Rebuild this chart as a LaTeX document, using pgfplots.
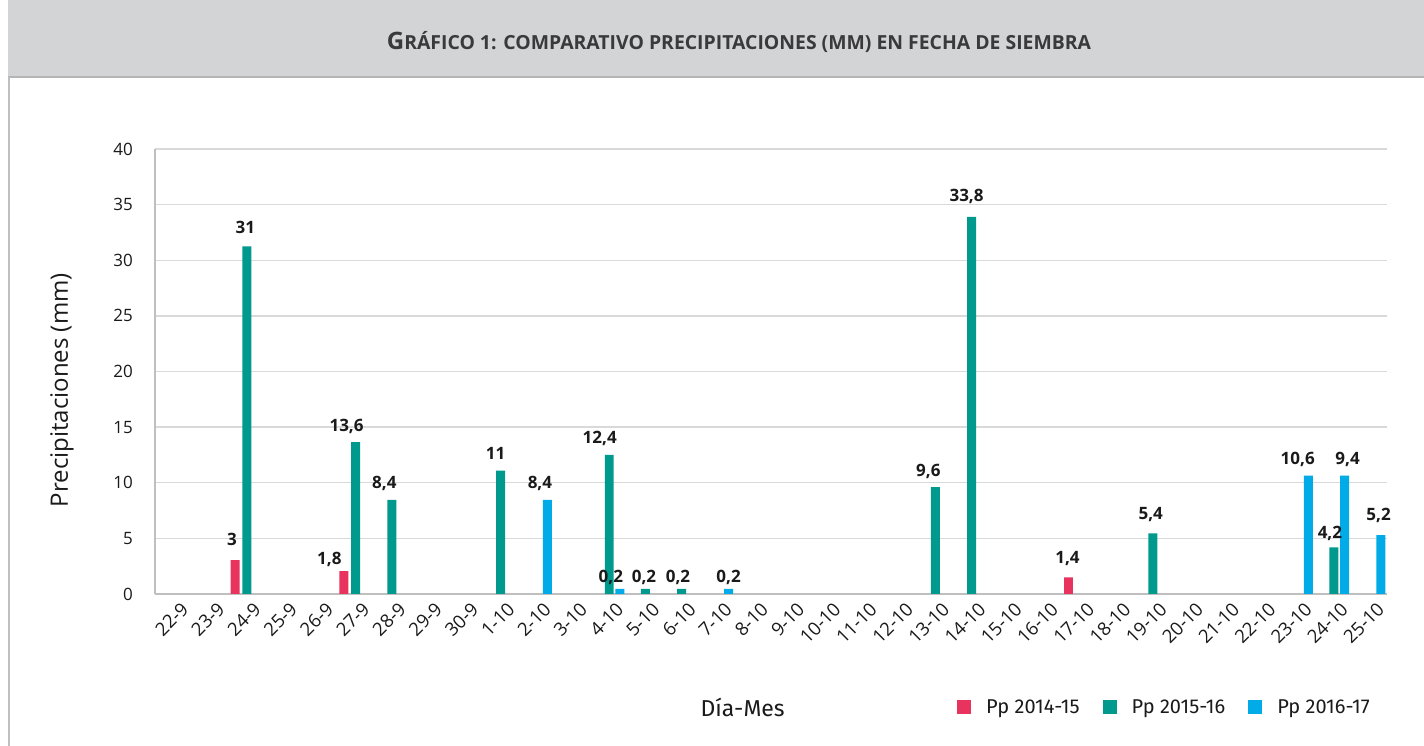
\documentclass[border=0pt]{standalone}
\usepackage{pgfplots}
\pgfplotsset{compat=1.18}
\usepackage{pgfplotstable}
\usepackage{fontspec}
\setmainfont{Open Sans}
\newfontfamily\legfont{Fira Sans}
\definecolor{cred}{HTML}{E8335E}
\definecolor{cteal}{HTML}{00998E}
\definecolor{cblue}{HTML}{00ABE7}
\definecolor{banner}{HTML}{D3D4D6}
\definecolor{bannerline}{HTML}{B4B5B7}
\definecolor{gridc}{HTML}{D9D9D9}
\definecolor{axc}{HTML}{BFBFBF}
\definecolor{txt}{HTML}{1A1A1A}
\definecolor{titc}{HTML}{3A3A3A}

\pgfplotstableread{
x y lab dx dy
2 3.05 3 -3 21
5 2.05 1,8 -14.5 13
25 1.5 1,4 -1 20
}\redtab
\pgfplotstableread{
x y lab dx dy
2 31.25 31 -1.5 19
5 13.65 13,6 -9 17
6 8.45 8,4 -7.5 17
9 11.1 11 -5 17
12 12.5 12,4 -9.5 17
13 0.45 0,2 -1.5 12
14 0.45 0,2 -3.7 12
21 9.6 9,6 -7 17
22 33.9 33,8 -5 21
27 5.45 5,4 -2 20
32 4.2 4,2 -4 15
}\tealtab
\pgfplotstableread{
x y lab dx dy
10 8.45 8,4 -7.5 17
12 0.45 0,2 -9 12
15 0.45 0,2 0 12
31 10.65 10,6 -10.7 17
32 10.65 9,4 3 17
33 5.3 5,2 -2.3 21
}\bluetab

\begin{document}
\begin{tikzpicture}[x=1pt,y=1pt]
\path[use as bounding box] (0,0) rectangle (1424,746);
\fill[white] (0,0) rectangle (1424,746);
\fill[banner] (8,669) rectangle (1424,746);
\draw[bannerline,line width=1.5pt] (8,669) -- (1424,669);
\draw[axc,line width=2pt] (9,0) -- (9,669);
\node[font=\bfseries\fontsize{19.4}{22}\selectfont, text=titc] at (739,704)
  {{\fontsize{24}{27}\selectfont G}RÁFICO 1: COMPARATIVO PRECIPITACIONES (MM) EN FECHA DE SIEMBRA};
\begin{axis}[
  at={(155pt,152pt)}, anchor=south west,
  scale only axis, width=1232pt, height=445pt,
  xmin=-0.5, xmax=33.5, ymin=0, ymax=40,
  ybar,
  axis x line*=bottom, axis y line*=left,
  axis line style={axc, line width=1.5pt, -},
  ytick={0,5,...,40},
  ymajorgrids, grid style={gridc, line width=1.3pt},
  major tick length=0pt,
  xtick={0,...,33},
  xticklabels={22-9,23-9,24-9,25-9,26-9,27-9,28-9,29-9,30-9,1-10,2-10,3-10,4-10,5-10,6-10,7-10,8-10,9-10,10-10,11-10,12-10,13-10,14-10,15-10,16-10,17-10,18-10,19-10,20-10,21-10,22-10,23-10,24-10,25-10},
  /pgf/number format/assume math mode=true,
  yticklabel style={font=\fontsize{17}{20}\selectfont, text=txt, anchor=east, inner sep=0pt, xshift=-22pt},
  xticklabel style={font=\fontsize{18.5}{21}\selectfont, text=txt, rotate=45, anchor=north east, inner sep=0pt, xshift=0pt, yshift=-10pt},
  ylabel={Precipitaciones (mm)},
  ylabel style={font=\fontsize{24}{28}\selectfont, text=txt, at={(axis description cs:-0.0755,0.458)}, anchor=center},
  xlabel={Día-Mes},
  xlabel style={font=\legfont\fontsize{23}{26}\selectfont, text=txt, at={(axis description cs:0.477,-0.254)}, anchor=center},
  legend style={at={(axis description cs:0.651,-0.254)}, anchor=west, draw=none, fill=none, inner sep=0pt,
    font=\legfont\fontsize{20}{24}\selectfont, text=txt, legend columns=3,
    nodes={inner sep=1pt},
    /tikz/every odd column/.append style={column sep=14pt},
    /tikz/every even column/.append style={column sep=22pt}},
  legend image code/.code={\fill[#1,draw=none] (0pt,-7pt) rectangle (14pt,7pt);},
  bar width=0.248,
  point meta=explicit symbolic,
  nodes near coords,
  every node near coord/.append style={font=\bfseries\fontsize{17}{20}\selectfont, text=txt, anchor=base, inner sep=0pt, xshift=\ldx pt, yshift=\ldy pt},
  visualization depends on={\thisrow{dx} \as \ldx},
  visualization depends on={\thisrow{dy}-6 \as \ldy},
]
\addplot[fill=cred, draw=none, bar shift=-0.29] table[x=x, y=y, meta=lab] {\redtab};
\addlegendentry{Pp 2014-15}
\addplot[fill=cteal, draw=none, bar shift=0.036] table[x=x, y=y, meta=lab] {\tealtab};
\addlegendentry{Pp 2015-16}
\addplot[fill=cblue, draw=none, bar shift=0.33] table[x=x, y=y, meta=lab] {\bluetab};
\addlegendentry{Pp 2016-17}
\end{axis}
\end{tikzpicture}
\end{document}
